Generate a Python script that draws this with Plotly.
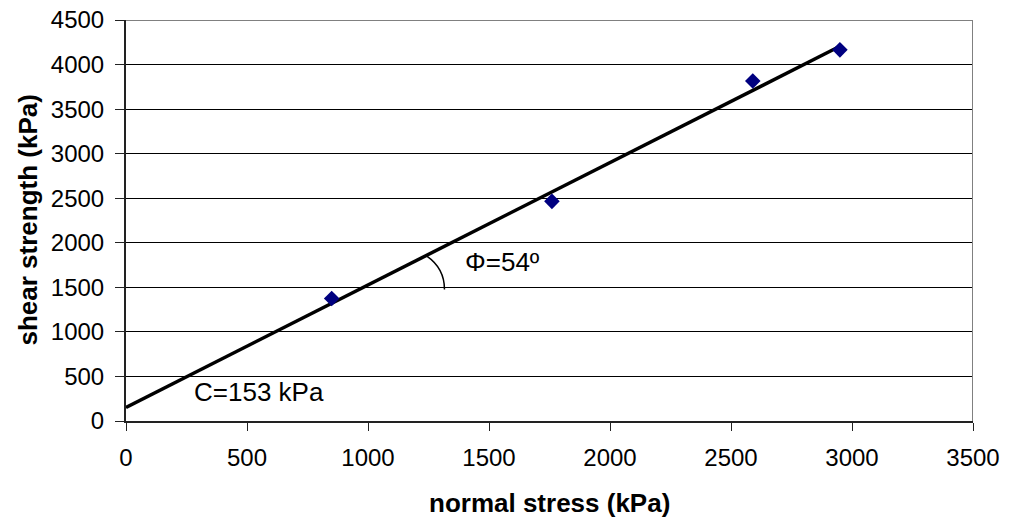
import plotly.graph_objects as go

# Data
normal_stress = [850, 1760, 2590, 2950]
shear_strength = [1375, 2465, 3815, 4165]
fit_x = [0, 2950]
fit_y = [153, 4205]
x_ticks = [0, 500, 1000, 1500, 2000, 2500, 3000, 3500]
y_ticks = [0, 500, 1000, 1500, 2000, 2500, 3000, 3500, 4000, 4500]

FONT = "Liberation Sans, Arial, sans-serif"

fig = go.Figure()
fig.add_trace(go.Scatter(x=fit_x, y=fit_y, mode="lines",
                         line=dict(color="black", width=3.5), showlegend=False))
fig.add_trace(go.Scatter(x=normal_stress, y=shear_strength, mode="markers",
                         marker=dict(symbol="diamond", size=12, color="#000080",
                                     line=dict(width=0)), showlegend=False))

fig.update_layout(
    width=1011, height=520,
    margin=dict(l=126, r=38, t=20, b=99, autoexpand=False),
    paper_bgcolor="white", plot_bgcolor="white",
    font=dict(family=FONT, size=24, color="black"),
    xaxis=dict(range=[0, 3500], tickvals=x_ticks, showgrid=False, zeroline=False,
               showline=True, linecolor="#222", linewidth=2, automargin=False,
               ticks="outside", ticklen=8, tickcolor="#222", tickwidth=1,
               ticklabelstandoff=6),
    yaxis=dict(range=[0, 4500], tickvals=y_ticks, showgrid=True, gridcolor="black",
               gridwidth=1, zeroline=False, automargin=False,
               showline=True, linecolor="#222", linewidth=2,
               ticks="outside", ticklen=9, tickcolor="#222", tickwidth=1,
               ticklabelstandoff=6),
    shapes=[
        dict(type="line", xref="x", yref="y", x0=0, x1=3500, y0=4500, y1=4500,
             line=dict(color="#808080", width=2)),
        dict(type="line", xref="x", yref="y", x0=3500, x1=3500, y0=0, y1=4500,
             line=dict(color="#808080", width=2)),
        dict(type="path", xref="x", yref="y",
             path="M 1243,1850 Q 1316,1713 1316,1477",
             line=dict(color="black", width=1.5)),
    ],
    annotations=[
        dict(x=274, y=326, xref="x", yref="y", text="C=153 kPa", showarrow=False,
             xanchor="left", yanchor="middle", font=dict(size=26, family=FONT)),
        dict(x=1393, y=1784, xref="x", yref="y", text="Φ=54º", showarrow=False,
             xanchor="left", yanchor="middle", font=dict(size=26, family=FONT)),
        dict(x=0.5, y=0, xref="paper", yref="paper", text="<b>normal stress (kPa)</b>",
             showarrow=False, xanchor="center", yanchor="middle", yshift=-82,
             font=dict(size=26, family=FONT)),
        dict(x=0, y=0.5, xref="paper", yref="paper", text="<b>shear strength (kPa)</b>",
             showarrow=False, xanchor="center", yanchor="middle", xshift=-99,
             textangle=-90, font=dict(size=26, family=FONT)),
    ],
)

fig.write_html("out.html")
